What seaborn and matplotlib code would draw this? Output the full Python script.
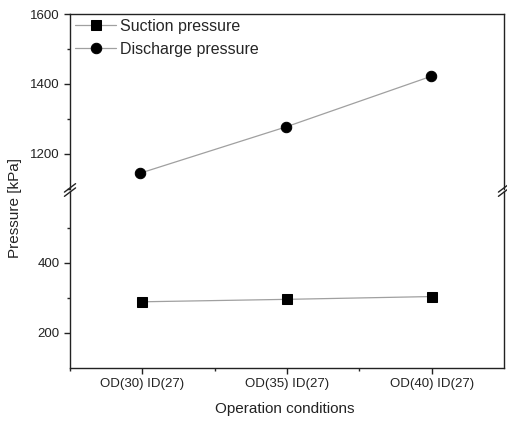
import numpy as np
import pandas as pd
import matplotlib
matplotlib.use("Agg")
import matplotlib.pyplot as plt
import seaborn as sns
from matplotlib.ticker import MultipleLocator

# data
conditions = ["OD(30) ID(27)", "OD(35) ID(27)", "OD(40) ID(27)"]
suction = [288, 295, 303]
discharge = [1145, 1277, 1422]

xpos = list(range(len(conditions)))
suc_df = pd.DataFrame({"x": xpos, "value": suction})
dis_df = pd.DataFrame({"x": xpos, "value": discharge})

sns.set_style("ticks")
plt.rcParams["font.family"] = ["Liberation Sans", "DejaVu Sans"]
plt.rcParams["axes.linewidth"] = 1.0

fig = plt.figure(figsize=(5.07, 4.22), dpi=100)
left, width = 70 / 507, (504 - 70) / 507
ax_top = fig.add_axes([left, 1 - 189 / 422, width, (189 - 14) / 422])
ax_bot = fig.add_axes([left, 1 - 367.5 / 422, width, (367.5 - 191) / 422])

for ax in (ax_top, ax_bot):
    sns.lineplot(data=suc_df, x="x", y="value", marker="s", markersize=6.5,
                 color="#a0a0a0", lw=0.9, markerfacecolor="black",
                 markeredgecolor="black", label="Suction pressure", ax=ax)
    sns.lineplot(data=dis_df, x="x", y="value", marker="o", markersize=7.5,
                 color="#a0a0a0", lw=0.9, markerfacecolor="black",
                 markeredgecolor="black", label="Discharge pressure", ax=ax)
    ax.set_xlim(-0.48, 2.5)
    ax.set_xlabel("")
    ax.set_ylabel("")
    for s in ax.spines.values():
        s.set_color("#222222")
    ax.tick_params(axis="both", which="major", direction="out", length=4,
                   width=1, labelsize=9.5, colors="#222222")
    ax.tick_params(axis="both", which="minor", direction="out", length=2.5, width=1)

ax_bot.get_legend().remove()

ax_top.set_ylim(1100, 1600)
ax_top.yaxis.set_major_locator(MultipleLocator(200))
ax_top.yaxis.set_minor_locator(MultipleLocator(100))
ax_top.spines["bottom"].set_visible(False)
ax_top.tick_params(axis="x", which="both", bottom=False, labelbottom=False)

ax_bot.set_ylim(100, 605)
ax_bot.set_yticks([200, 400])
ax_bot.set_yticks([300, 500], minor=True)
ax_bot.spines["top"].set_visible(False)
ax_bot.set_xticks(xpos)
ax_bot.set_xticklabels(conditions)
ax_bot.set_xticks([-0.5, 0.5, 1.5], minor=True)

# break marks
for xb in (0, 1):
    for dy in (-0.005, 0.005):
        fig.lines.append(plt.Line2D(
            [left + xb * width - 0.011, left + xb * width + 0.011],
            [1 - 190 / 422 + dy - 0.01, 1 - 190 / 422 + dy + 0.01],
            color="#222222", lw=1.0, transform=fig.transFigure))

ax_top.legend(loc="upper left", frameon=False, fontsize=11.5,
              handlelength=2.6, borderaxespad=0.0, borderpad=0.3,
              labelspacing=0.5, handletextpad=0.25)

fig.text(0.03, 1 - 208 / 422, "Pressure [kPa]", rotation=90,
         ha="center", va="center", fontsize=11, color="#222222")
fig.text(left + width / 2 - 0.005, 1 - 409 / 422, "Operation conditions",
         ha="center", va="center", fontsize=11, color="#222222")

fig.savefig("out.png", dpi=100)
